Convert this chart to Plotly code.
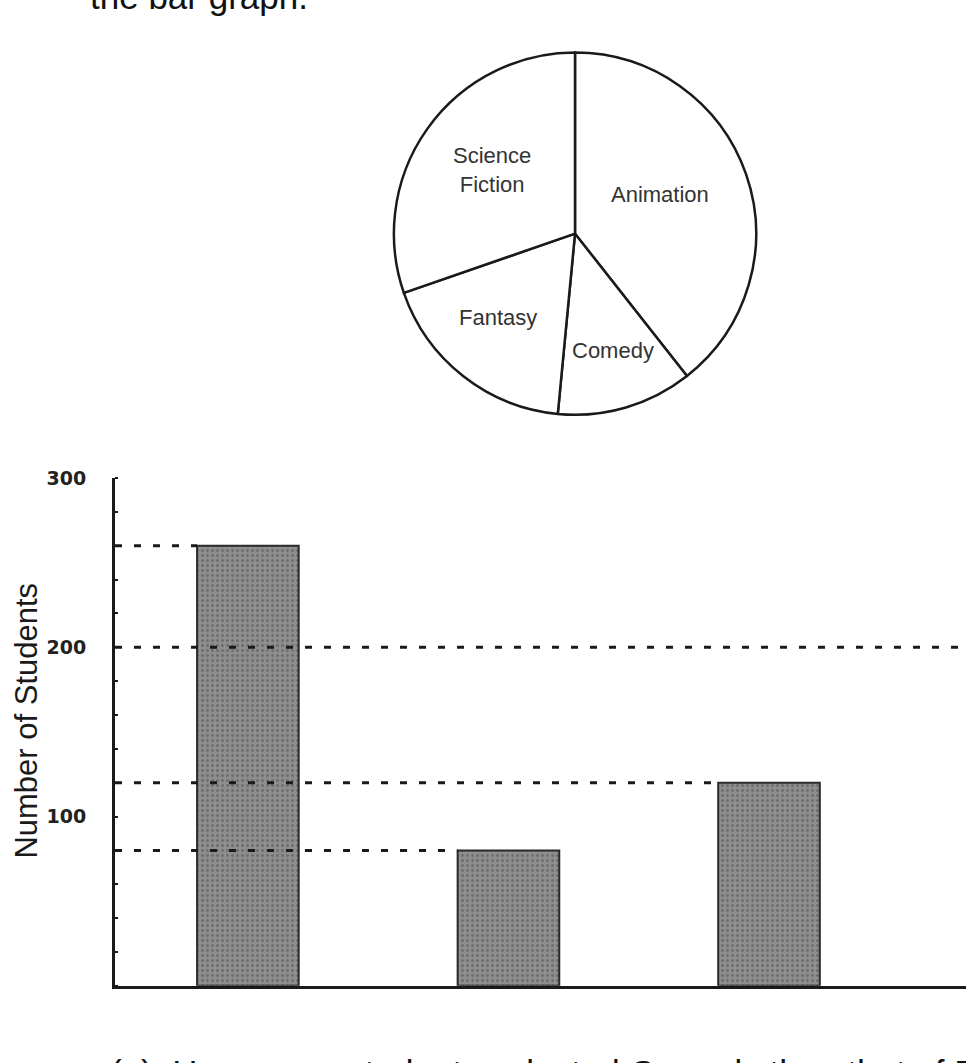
import plotly.graph_objects as go

# survey data: favourite movie type
categories = ["Animation", "Comedy", "Fantasy", "Science Fiction"]
students = [260, 80, 120, 200]
# the bar graph is unfinished: Science Fiction has no bar yet
bar_students = [260, 80, 120, None]
y_ticks = [100, 200, 300]
y_tick_text = ["100", "200", "300"]

W, H = 966, 1063
bar_width = 0.39
x_range = [-0.51, 2.756]


def px(x):
    return x / W


def py(y):
    return 1 - y / H


fig = go.Figure()

fig.add_trace(go.Pie(
    labels=categories,
    values=students,
    sort=False,
    direction="clockwise",
    rotation=0,
    textinfo="none",
    marker=dict(colors=["white"] * 4, line=dict(color="#1a1a1a", width=2.5)),
    domain=dict(x=[px(392), px(758)], y=[py(408), py(42)]),
    showlegend=False,
))

fig.add_trace(go.Bar(
    x=categories,
    y=bar_students,
    width=bar_width,
    marker=dict(
        color="#8e8e8e",
        line=dict(color="#2a2a2a", width=2),
        pattern=dict(shape=".", fgcolor="#474747", size=5, solidity=0.25),
    ),
    showlegend=False,
))

# dashed guide lines from the axis to the left edge of each bar
for i, v in enumerate(students):
    fig.add_shape(
        type="line", xref="x", yref="y",
        x0=x_range[0], x1=i - bar_width / 2, y0=v, y1=v,
        line=dict(color="#1a1a1a", width=3, dash="7px,12px"),
        layer="above",
    )

# pie labels
pie_label_pos = {
    "Animation": (660, 185),
    "Comedy": (613, 343),
    "Fantasy": (498, 310),
    "Science Fiction": (492, 161),
}
for name in categories:
    x, y = pie_label_pos[name]
    fig.add_annotation(
        x=px(x), y=py(y), xref="paper", yref="paper",
        xanchor="center", yanchor="middle",
        text=name.replace(" ", "<br>"), showarrow=False,
        font=dict(family="Liberation Sans", size=22, color="#333"),
    )

fig.add_annotation(
    x=px(27), y=py(717), xref="paper", yref="paper",
    xanchor="center", yanchor="middle",
    text="Number of Students", textangle=-90, showarrow=False,
    font=dict(family="Liberation Sans", size=31, color="#1a1a1a"),
)

# cut-off text from the page above and below
fig.add_annotation(
    x=px(88), y=py(-15), xref="paper", yref="paper",
    xanchor="left", yanchor="middle",
    text="the bar graph.", showarrow=False,
    font=dict(family="Liberation Sans", size=35, color="#111"),
)
fig.add_annotation(
    x=px(108), y=py(1073), xref="paper", yref="paper",
    xanchor="left", yanchor="middle",
    text="(a)&nbsp;&nbsp;How many students selected Comedy than that of Fantasy?",
    showarrow=False,
    font=dict(family="Liberation Sans", size=35, color="#111"),
)

fig.update_layout(
    width=W, height=H,
    margin=dict(l=0, r=0, t=0, b=0),
    paper_bgcolor="white", plot_bgcolor="white",
    xaxis=dict(
        type="category", categoryorder="array", categoryarray=categories,
        range=x_range, domain=[px(115), 1],
        showticklabels=False, ticks="", showgrid=False, zeroline=False,
        showline=True, linecolor="#1a1a1a", linewidth=3,
    ),
    yaxis=dict(
        range=[0, 300], domain=[py(985), py(472)],
        tickvals=y_ticks, ticktext=y_tick_text, ticks="",
        ticklabelstandoff=22,
        tickfont=dict(family="DejaVu Sans", size=19, color="#222", weight="bold"),
        minor=dict(dtick=20, ticks="inside", ticklen=3, tickwidth=2, tickcolor="#1a1a1a"),
        showgrid=False, zeroline=False,
        showline=True, linecolor="#1a1a1a", linewidth=3,
    ),
)

fig.write_html(
    "out.html",
    config={"displayModeBar": False},
    post_script="document.body.style.margin='0';",
)
